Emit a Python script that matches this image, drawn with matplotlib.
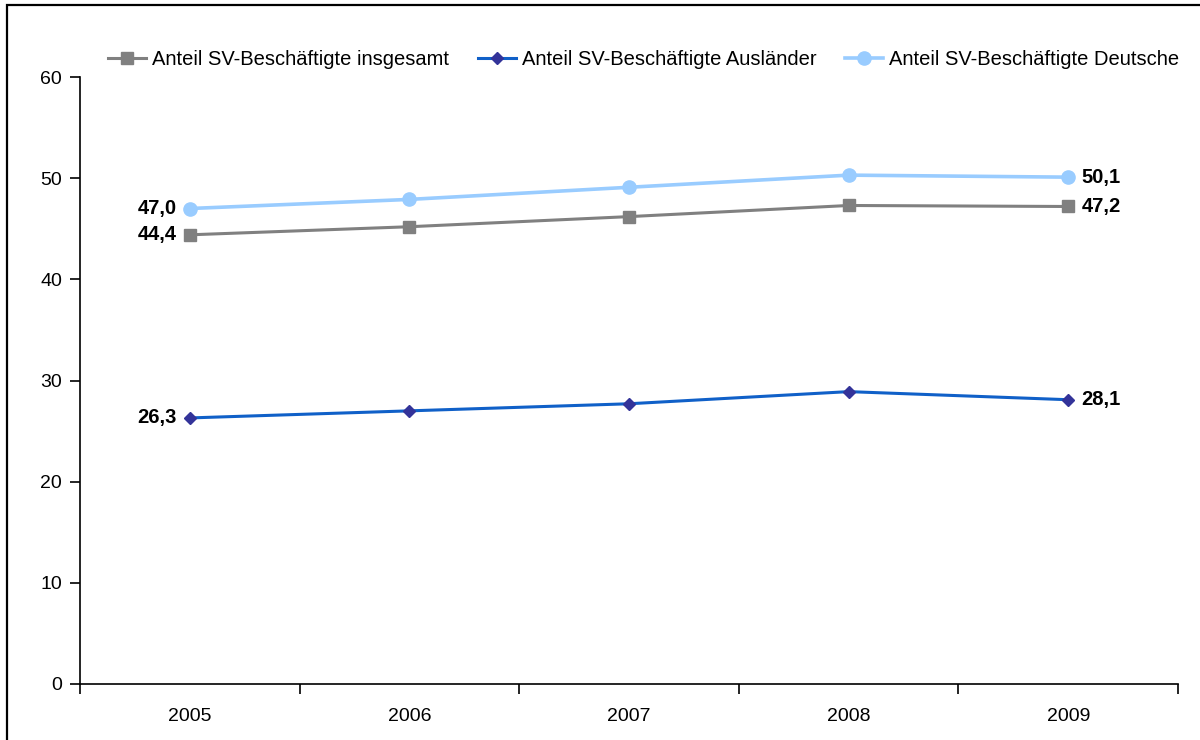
import matplotlib.pyplot as plt
from matplotlib.patches import Rectangle

plt.rcParams['font.family'] = ['Liberation Sans', 'DejaVu Sans']

jahre = ['2005', '2006', '2007', '2008', '2009']
insgesamt = [44.4, 45.2, 46.2, 47.3, 47.2]
auslaender = [26.3, 27.0, 27.7, 28.9, 28.1]
deutsche = [47.0, 47.9, 49.1, 50.3, 50.1]

fig = plt.figure(figsize=(12, 7.4), dpi=100)
ax = fig.add_axes([80 / 1200, 1 - 684 / 740, 1098 / 1200, 607 / 740])

x = list(range(len(jahre)))
ax.plot(x, insgesamt, color='#808080', lw=2.2, marker='s', ms=9,
        label='Anteil SV-Beschäftigte insgesamt')
ax.plot(x, auslaender, color='#1060C8', lw=2.2, marker='D', ms=6.5,
        mfc='#333399', mec='#333399', label='Anteil SV-Beschäftigte Ausländer')
ax.plot(x, deutsche, color='#99CCFF', lw=2.6, marker='o', ms=9.5,
        label='Anteil SV-Beschäftigte Deutsche')

# Werte am ersten und letzten Jahr
for serie in (insgesamt, auslaender, deutsche):
    ax.text(x[0] - 0.06, serie[0], f'{serie[0]:.1f}'.replace('.', ','),
            ha='right', va='center', fontsize=14.5, fontweight='bold')
    ax.text(x[-1] + 0.06, serie[-1], f'{serie[-1]:.1f}'.replace('.', ','),
            ha='left', va='center', fontsize=14.5, fontweight='bold')

ax.set_xlim(-0.5, 4.5)
ax.set_ylim(0, 60)
ax.set_yticks(range(0, 61, 10))
ax.set_xticks([i + 0.5 for i in range(-1, 5)], minor=False)
ax.set_xticklabels([])
ax.set_xticks(x, minor=True)
ax.set_xticklabels(jahre, minor=True)
ax.tick_params(axis='x', which='minor', length=0, pad=17, labelsize=14)
ax.tick_params(axis='x', which='major', length=7, width=1.2, direction='out')
ax.tick_params(axis='y', length=7, width=1.2, labelsize=14, pad=6)
for s in ('top', 'right'):
    ax.spines[s].set_visible(False)
for s in ('left', 'bottom'):
    ax.spines[s].set_linewidth(1.2)

fig.legend(loc='upper left', bbox_to_anchor=(100 / 1200, 1 - 42 / 740), ncol=3,
           frameon=False, fontsize=14.5, handlelength=1.9, handletextpad=0.3,
           columnspacing=1.4, borderaxespad=0)

# Rahmen um die Grafik
fig.patches.append(Rectangle((7 / 1200, -0.1), 1.2, 1 - 5 / 740 + 0.1,
                             transform=fig.transFigure, fill=False,
                             edgecolor='black', lw=1.6))

fig.savefig('out.png', dpi=100)
